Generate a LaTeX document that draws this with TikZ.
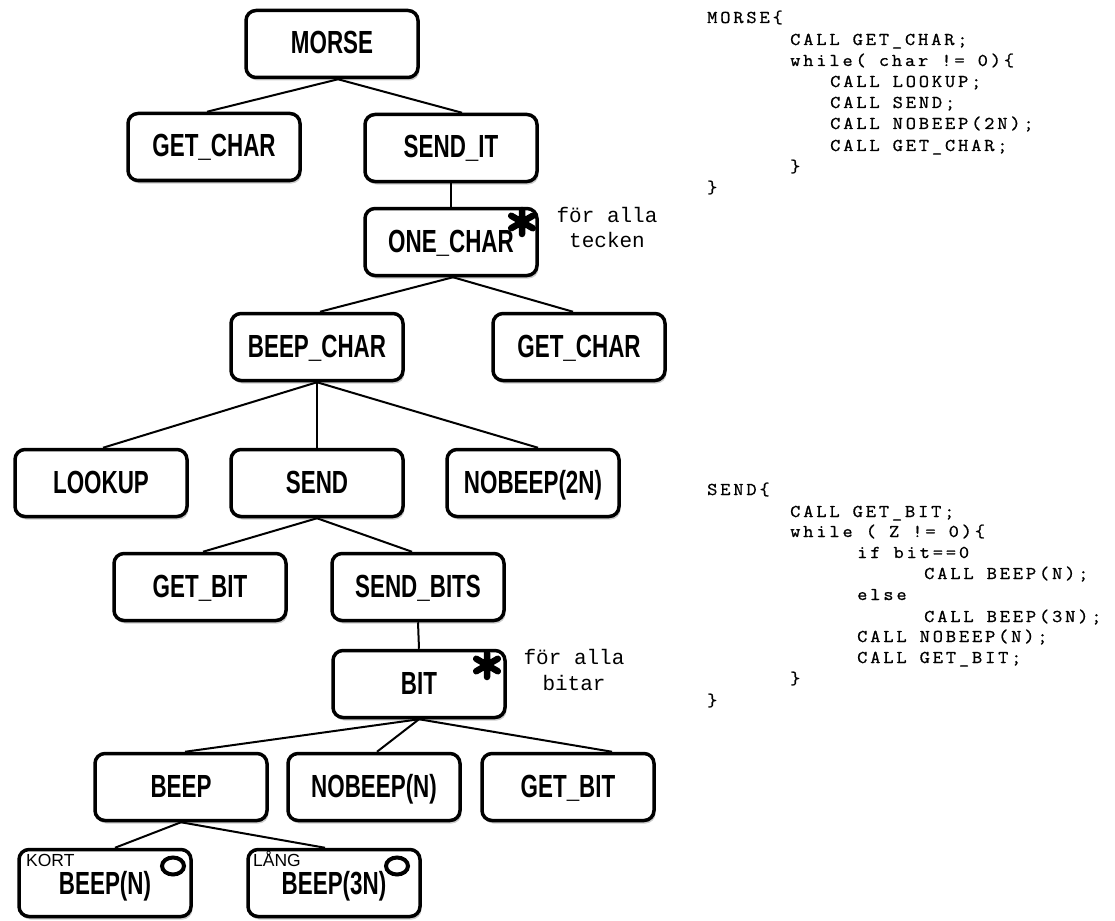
\documentclass[tikz,border=0pt]{standalone}
\usepackage{fontspec}
\usetikzlibrary{shadows}
\newfontfamily\boxfont[FakeStretch=0.7]{Liberation Sans}
\newfontfamily\codefont[LetterSpace=16,FakeStretch=1.1,FakeBold=1]{Latin Modern Mono}
\newfontfamily\notefont{Liberation Mono}
\newfontfamily\tagfont{Liberation Sans}
\tikzset{
  fbox/.style={draw, line width=3.5pt, rounded corners=10pt, fill=white,
    minimum width=172pt, minimum height=67pt, inner sep=0pt,
    text height=23pt, text depth=3pt,
    font=\boxfont\bfseries\fontsize{32}{36}\selectfont,
    drop shadow={shadow xshift=1.5pt, shadow yshift=-3pt, opacity=0.4}},
  low/.style={text depth=-5pt},
  conn/.style={line width=2pt},
  code/.style={anchor=base west, inner sep=0pt, font=\codefont\fontsize{18}{20}\selectfont},
  note/.style={anchor=base, inner sep=0pt, font=\notefont\fontsize{21}{25}\selectfont},
  tag/.style={anchor=base west, inner sep=0pt, font=\tagfont\fontsize{17.5}{20}\selectfont},
  ast/.style={line width=6.5pt, line cap=round},
  ring/.style={line width=4pt},
}
\begin{document}
\begin{tikzpicture}[x=1pt,y=-1pt]
\useasboundingbox (0,0) rectangle (1115,920);
% boxes
\node[fbox] (morse) at (332,44) {MORSE};
\node[fbox] (gc1) at (214,147) {GET\_CHAR};
\node[fbox] (sendit) at (451,148) {SEND\_IT};
\node[fbox] (onechar) at (451,242) {ONE\_CHAR};
\node[fbox] (beepchar) at (317,347) {BEEP\_CHAR};
\node[fbox] (gc2) at (579,347) {GET\_CHAR};
\node[fbox] (lookup) at (101,483) {LOOKUP};
\node[fbox] (send) at (317,483) {SEND};
\node[fbox] (nb2n) at (533,483) {NOBEEP(2N)};
\node[fbox] (gb1) at (200,587) {GET\_BIT};
\node[fbox] (sendbits) at (418,587) {SEND\_BITS};
\node[fbox] (bit) at (419,684) {BIT};
\node[fbox] (beep) at (181,787) {BEEP};
\node[fbox] (nbn) at (374,787) {NOBEEP(N)};
\node[fbox] (gb2) at (568,787) {GET\_BIT};
\node[fbox, low] (beepn) at (105,883) {BEEP(N)};
\node[fbox, low] (beep3n) at (334,883) {BEEP(3N)};
% connectors
\draw[conn] ([xshift=6pt]morse.south) -- ([xshift=-7pt]gc1.north);
\draw[conn] ([xshift=6pt]morse.south) -- ([xshift=11pt]sendit.north);
\draw[conn] (sendit.south) -- (onechar.north);
\draw[conn] ([xshift=2pt]onechar.south) -- ([xshift=3pt]beepchar.north);
\draw[conn] ([xshift=2pt]onechar.south) -- ([xshift=-6pt]gc2.north);
\draw[conn] (beepchar.south) -- ([xshift=2pt]lookup.north);
\draw[conn] (beepchar.south) -- (send.north);
\draw[conn] (beepchar.south) -- ([xshift=5pt]nb2n.north);
\draw[conn] (send.south) -- ([xshift=3pt]gb1.north);
\draw[conn] (send.south) -- ([xshift=-6pt]sendbits.north);
\draw[conn] (sendbits.south) -- (bit.north);
\draw[conn] (bit.south) -- ([xshift=4pt]beep.north);
\draw[conn] (bit.south) -- ([xshift=3pt]nbn.north);
\draw[conn] (bit.south) -- ([xshift=44pt]gb2.north);
\draw[conn] (beep.south) -- ([xshift=10pt]beepn.north);
\draw[conn] (beep.south) -- ([xshift=-9pt]beep3n.north);
% asterisks
\draw[ast, shift={(522,222)}] (90:12) -- (270:12) (30:12.5) -- (210:12.5) (-30:12.5) -- (150:12.5);
\draw[ast, shift={(487,665)}] (90:12) -- (270:12) (30:12.5) -- (210:12.5) (-30:12.5) -- (150:12.5);
% rings
\draw[ring] (173,866) ellipse [x radius=11pt, y radius=8.5pt];
\draw[ring] (397,866) ellipse [x radius=11pt, y radius=8.5pt];
% tags
\node[tag] (kort) at (26,866) {KORT};
\node[tag] (lang) at (253,866) {LÅNG};
% notes
\node[note] (n1a) at (607,222) {för alla};
\node[note] (n1b) at (607,247) {tecken};
\node[note] (n2a) at (574,664) {för alla};
\node[note] (n2b) at (574,690) {bitar};
% code MORSE
\node[code] (m1) at (707,23) {MORSE\{};
\node[code] (m2) at (790,45) {CALL GET\_CHAR;};
\node[code] (m3) at (790,66) {while( char != 0)\{};
\node[code] (m4) at (830,87) {CALL LOOKUP;};
\node[code] (m5) at (830,108) {CALL SEND;};
\node[code] (m6) at (830,129) {CALL NOBEEP(2N);};
\node[code] (m7) at (830,151) {CALL GET\_CHAR;};
\node[code] (m8) at (790,172) {\}};
\node[code] (m9) at (707,193) {\}};
% code SEND
\node[code] (s1) at (707,495) {SEND\{};
\node[code] (s2) at (790,517) {CALL GET\_BIT;};
\node[code] (s3) at (790,537) {while ( Z != 0)\{};
\node[code] (s4) at (857,558) {if bit==0};
\node[code] (s5) at (924,579) {CALL BEEP(N);};
\node[code] (s6) at (857,600) {else};
\node[code] (s7) at (924,622) {CALL BEEP(3N);};
\node[code] (s8) at (857,642) {CALL NOBEEP(N);};
\node[code] (s9) at (857,663) {CALL GET\_BIT;};
\node[code] (s10) at (790,684) {\}};
\node[code] (s11) at (707,706) {\}};
\end{tikzpicture}
\end{document}
